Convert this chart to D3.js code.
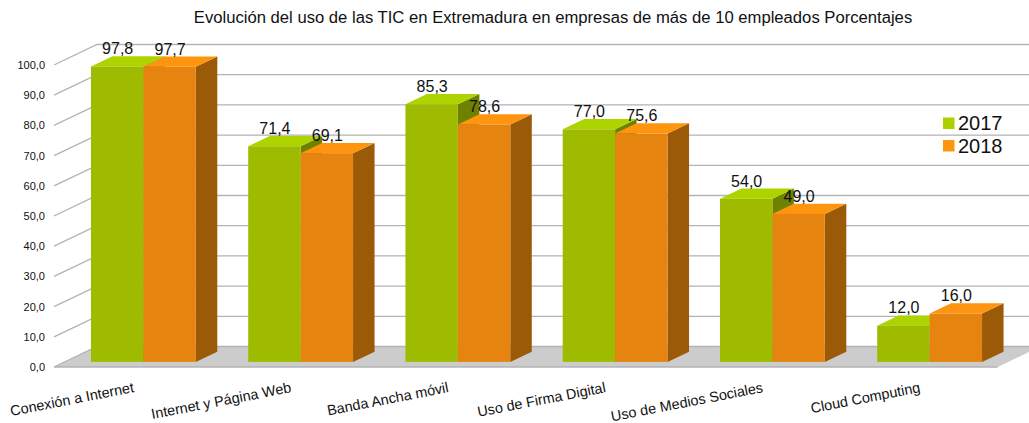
<!DOCTYPE html>
<html>
<head>
<meta charset="utf-8">
<title>Evolución del uso de las TIC en Extremadura</title>
<script src="https://cdnjs.cloudflare.com/ajax/libs/d3/7.8.5/d3.min.js"></script>
<style>
    html, body { margin: 0; padding: 0; background: #fff; overflow: hidden; }
    svg { display: block; }
    text { font-family: "Liberation Sans", Arial, sans-serif; fill: #111; }
</style>
</head>
<body>
<div id="canvas"></div>
<script>
"use strict"
let svgWidth = 1029;
let svgHeight = 423;

let titleText = "Evolución del uso de las TIC en Extremadura en empresas de más de 10 empleados Porcentajes";
let categories = ["Conexión a Internet", "Internet y Página Web", "Banda Ancha móvil", "Uso de Firma Digital", "Uso de Medios Sociales", "Cloud Computing"];
let seriesNames = ["2017", "2018"];
let values2017 = [97.8, 71.4, 85.3, 77.0, 54.0, 12.0];
let values2018 = [97.7, 69.1, 78.6, 75.6, 49.0, 16.0];
let yTicks = [0, 10, 20, 30, 40, 50, 60, 70, 80, 90, 100];

// floor corners and the depth of the 3D box
let floorLeft = 54;
let floorRight = 997.5;
let floorY = 367;
let depthX = 43;
let depthY = 20.5;

let yScale = d3.scaleLinear().domain([0, 100]).range([floorY, floorY - 302]);
let xScale = d3.scaleBand().domain(categories).range([floorLeft, floorRight]).paddingInner(0).paddingOuter(0);
// one band holds the two bars, a third of the band stays empty
let barScale = d3.scaleBand().domain(seriesNames).range([0, xScale.bandwidth()]).paddingOuter(0.5).paddingInner(0);

let comma = d3.formatLocale({ decimal: ",", thousands: ".", grouping: [3], currency: ["", ""] }).format(".1f");

let colors = {
    "2017": { front: "#9fbb00", top: "#aed400", side: "#6f8200", key: "#aecf00" },
    "2018": { front: "#e5840f", top: "#ff950e", side: "#9a5a08", key: "#ff950e" }
};

let svg = d3.select("#canvas")
    .append("svg")
    .attr("width", svgWidth)
    .attr("height", svgHeight);

svg.append("text")
    .attr("x", 553)
    .attr("y", 23)
    .attr("text-anchor", "middle")
    .attr("font-size", 16.65)
    .text(titleText);

// Floor of the box
svg.append("polygon")
    .attr("points", [
        [floorLeft, floorY],
        [floorRight, floorY],
        [floorRight + depthX, floorY - depthY],
        [floorLeft + depthX, floorY - depthY]
    ].join(" "))
    .attr("fill", "#cccccc");

svg.append("line")
    .attr("x1", floorLeft)
    .attr("x2", floorRight)
    .attr("y1", floorY)
    .attr("y2", floorY)
    .attr("stroke", "#b3b3b3")
    .attr("stroke-width", 1.3);

// Gridlines: along the left wall, then along the back wall
yTicks.forEach(function (t) {
    svg.append("polyline")
        .attr("points", [
            [floorLeft, yScale(t)],
            [floorLeft + depthX, yScale(t) - depthY],
            [floorRight + depthX, yScale(t) - depthY]
        ].join(" "))
        .attr("fill", "none")
        .attr("stroke", "#b3b3b3")
        .attr("stroke-width", 1.3);

    svg.append("text")
        .attr("x", 45)
        .attr("y", yScale(t) + 4)
        .attr("text-anchor", "end")
        .attr("font-size", 11)
        .text(comma(t));
});

// Bars sit in the middle half of the depth
let barDepthX = depthX / 2;
let barDepthY = depthY / 2;
let frontX = depthX / 4;
let frontY = depthY / 4;

function drawBar(category, series, value) {
    let c = colors[series];
    let x0 = xScale(category) + barScale(series) + frontX;
    let x1 = x0 + barScale.bandwidth();
    let yBase = yScale(0) - frontY;
    let yTop = yScale(value) - frontY;

    svg.append("polygon")
        .attr("points", [[x1, yTop], [x1 + barDepthX, yTop - barDepthY], [x1 + barDepthX, yBase - barDepthY], [x1, yBase]].join(" "))
        .attr("fill", c.side);
    svg.append("polygon")
        .attr("points", [[x0, yTop], [x0 + barDepthX, yTop - barDepthY], [x1 + barDepthX, yTop - barDepthY], [x1, yTop]].join(" "))
        .attr("fill", c.top);
    svg.append("rect")
        .attr("x", x0)
        .attr("y", yTop)
        .attr("width", x1 - x0)
        .attr("height", yBase - yTop)
        .attr("fill", c.front);
}

categories.forEach(function (cat, i) {
    drawBar(cat, "2017", values2017[i]);
    drawBar(cat, "2018", values2018[i]);
});

// Value labels go on top of all the bars
function drawValueLabel(category, series, value) {
    svg.append("text")
        .attr("x", xScale(category) + barScale(series) + frontX + barScale.bandwidth() / 2 + 0.5)
        .attr("y", yScale(value) - frontY - barDepthY - 2)
        .attr("text-anchor", "middle")
        .attr("font-size", 16)
        .text(comma(value));
}

categories.forEach(function (cat, i) {
    drawValueLabel(cat, "2017", values2017[i]);
    drawValueLabel(cat, "2018", values2018[i]);
});

// Category labels, rotated and ending under the middle of the band
categories.forEach(function (cat) {
    let x = xScale(cat) + xScale.bandwidth() / 2 + 2;
    svg.append("text")
        .attr("transform", "translate(" + x + ",392) rotate(-11)")
        .attr("text-anchor", "end")
        .attr("font-size", 14.4)
        .text(cat);
});

// Legend
seriesNames.forEach(function (name, i) {
    let y = 117.5 + i * 22.5;
    svg.append("rect")
        .attr("x", 943)
        .attr("y", y)
        .attr("width", 11.5)
        .attr("height", 11.5)
        .attr("fill", colors[name].key);
    svg.append("text")
        .attr("x", 958)
        .attr("y", y + 12.5)
        .attr("font-size", 20)
        .text(name);
});
</script>
</body>
</html>
